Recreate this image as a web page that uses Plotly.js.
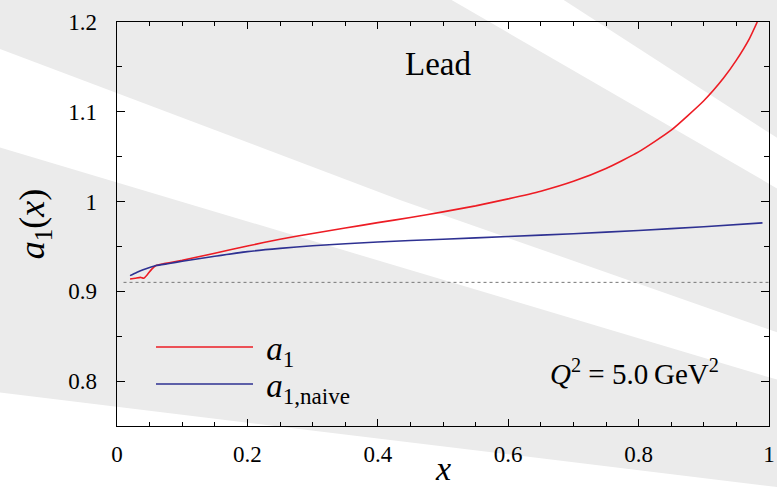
<!DOCTYPE html>
<html>
<head>
<meta charset="utf-8">
<script src="https://cdn.plot.ly/plotly-3.0.1.min.js"></script>
<style>html,body{margin:0;padding:0;background:#ebebeb;}#chart{width:777px;height:488px;}</style>
</head>
<body>
<div id="chart"></div>
<script>
// ---- data ----
const xA1 = [0.02,0.028,0.036,0.041,0.047,0.053,0.06,0.07,0.08,0.1,0.125,0.15,0.2,0.25,0.3,0.35,0.4,0.45,0.5,0.55,0.6,0.65,0.7,0.75,0.8,0.85,0.9,0.93,0.95,0.97,0.982];
const yA1 = [0.9138,0.9146,0.9155,0.9145,0.919,0.9245,0.9287,0.9305,0.9318,0.9345,0.9385,0.9425,0.9505,0.958,0.9645,0.9705,0.9765,0.9822,0.9885,0.9952,1.003,1.0115,1.0225,1.0368,1.0553,1.0795,1.1123,1.1373,1.1575,1.1815,1.2];
const xNaive = [0.02,0.03,0.04,0.05,0.06,0.08,0.1,0.125,0.15,0.2,0.25,0.3,0.4,0.5,0.6,0.7,0.8,0.9,0.99];
const yNaive = [0.9175,0.921,0.924,0.9265,0.9287,0.931,0.9335,0.9362,0.939,0.9442,0.9478,0.9507,0.9550,0.958,0.961,0.9642,0.9677,0.972,0.9763];
const xRef = [0.01, 1.0];
const yRef = [0.91, 0.91];
const seriesNames = ['\u00a0<i>a</i><sub>1</sub>', '\u00a0<i>a</i><sub>1,naive</sub>'];
const xTicks = [0, 0.2, 0.4, 0.6, 0.8, 1];
const xTickText = ['0', '0.2', '0.4', '0.6', '0.8', '1'];
const yTicks = [0.8, 0.9, 1.0, 1.1, 1.2];
const yTickText = ['0.8', '0.9', '1', '1.1', '1.2'];
const xTitle = '<i>x</i>';
const yTitle = '<i>a</i><sub>1</sub>(<i>x</i>)';

// ---- layout geometry ----
const W = 777, H = 488, ML = 117, MR = 8, MT = 22, MB = 62;
const PW = W - ML - MR, PH = H - MT - MB;
function px2paper(pts) {
  return 'M' + pts.map(p => ((p[0] - ML) / PW).toFixed(4) + ',' + ((H - MB - p[1]) / PH).toFixed(4)).join('L') + 'Z';
}
const stripeFill = '#ffffff';
const stripes = [
  [[-5,47],[400,200],[785,335],[785,382],[-5,146]],
  [[443,-5],[556,-5],[785,143],[785,193]],
  [[-5,392],[785,488],[785,500],[-5,500]]
].map(p => ({type:'path', xref:'paper', yref:'paper', layer:'below', path:px2paper(p), fillcolor:stripeFill, line:{width:0}}));

const FONT = 'Liberation Serif, Times New Roman, serif';
const legendFont = {family:FONT, size:33, color:'#000'};

const traces = [
  {x:xRef, y:yRef, mode:'lines', line:{color:'#777777', width:1, dash:'dot'}, showlegend:false, hoverinfo:'skip'},
  {x:xA1, y:yA1, name:seriesNames[0], legend:'legend', mode:'lines', line:{color:'#ed1c24', width:1.6, shape:'spline', smoothing:0.5}},
  {x:xNaive, y:yNaive, name:seriesNames[1], legend:'legend2', mode:'lines', line:{color:'#2e3192', width:1.6, shape:'spline', smoothing:0.5}}
];

const axisCommon = {
  showgrid:false, zeroline:false, showline:true, linecolor:'#000', linewidth:1.3,
  mirror:'allticks', ticks:'inside', tickcolor:'#000', tickwidth:1,
  tickfont:{family:FONT, size:23, color:'#000'}
};

const layout = {
  width:W, height:H,
  margin:{l:ML, r:MR, t:MT, b:MB},
  paper_bgcolor:'#ebebeb', plot_bgcolor:'rgba(0,0,0,0)',
  font:{family:FONT, color:'#000'},
  xaxis:Object.assign({}, axisCommon, {
    range:[0,1], tickvals:xTicks, ticktext:xTickText, ticklen:7,
    minor:{dtick:0.05, tick0:0, ticks:'inside', ticklen:4, tickcolor:'#000', tickwidth:1},
    ticklabelstandoff:7
  }),
  yaxis:Object.assign({}, axisCommon, {
    range:[0.75,1.2], tickvals:yTicks, ticktext:yTickText, ticklen:8,
    minor:{dtick:0.05, tick0:0.75, ticks:'inside', ticklen:5, tickcolor:'#000', tickwidth:1},
    ticklabelstandoff:14,
    title:{text:yTitle, font:{family:FONT, size:36}, standoff:12}
  }),
  legend:{x:(151-ML)/PW, y:(H-MB-347)/PH, xanchor:'left', yanchor:'middle', bgcolor:'rgba(0,0,0,0)',
          font:legendFont, itemwidth:97},
  legend2:{x:(151-ML)/PW, y:(H-MB-384)/PH, xanchor:'left', yanchor:'middle', bgcolor:'rgba(0,0,0,0)',
          font:legendFont, itemwidth:97},
  shapes:stripes,
  annotations:[
    {text:xTitle, xref:'paper', yref:'paper', x:0.5, y:(H-MB-487.5)/PH, showarrow:false, borderpad:0,
     font:{family:FONT, size:34, color:'#000'}, xanchor:'center', yanchor:'bottom'},
    {text:'Lead', xref:'paper', yref:'paper', x:(438-ML)/PW, y:(H-MB-64)/PH, showarrow:false,
     font:{family:FONT, size:33, color:'#000'}, xanchor:'center', yanchor:'middle'},
    {text:'<i>Q</i><sup>2</sup> = 5.0\u2009GeV<sup>2</sup>', xref:'paper', yref:'paper', x:(721-ML)/PW, y:(H-MB-372)/PH,
     showarrow:false, font:{family:FONT, size:29, color:'#000'}, xanchor:'right', yanchor:'middle'}
  ]
};

Plotly.newPlot('chart', traces, layout, {displayModeBar:false, staticPlot:true});
</script>
</body>
</html>
